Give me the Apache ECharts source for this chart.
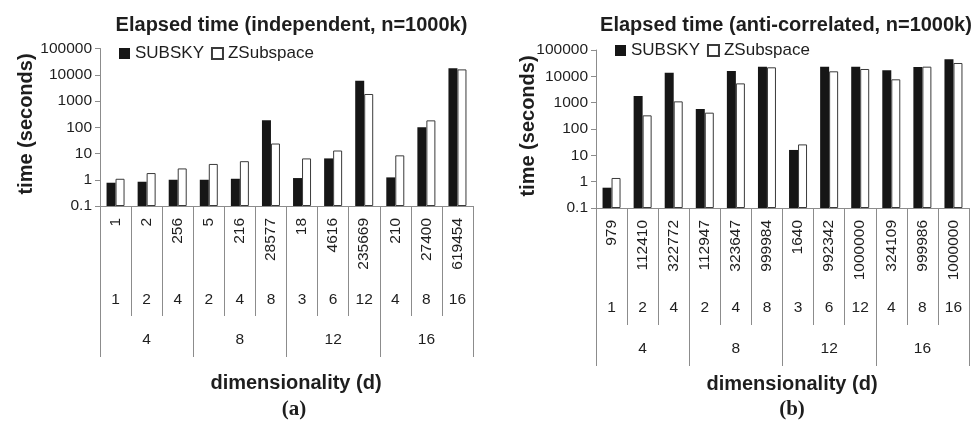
<!DOCTYPE html>
<html><head><meta charset="utf-8">
<script src="https://cdn.jsdelivr.net/npm/echarts@6/dist/echarts.min.js"></script>
<style>html,body{margin:0;padding:0;background:#fff}#c{width:976px;height:423px}</style>
</head><body><div id="c"></div>
<script>
const seriesNames = ['SUBSKY', 'ZSubspace'];
const yTickLabels = ['0.1', '1', '10', '100', '1000', '10000', '100000'];

// (a) independent, n=1000k
const indepSkylineSize = ['1', '2', '256', '5', '216', '28577', '18', '4616', '235669', '210', '27400', '619454'];
const indepSubspaceDim = ['1', '2', '4', '2', '4', '8', '3', '6', '12', '4', '8', '16'];
const indepDims = ['4', '8', '12', '16'];
const indepSUBSKY = [0.77, 0.84, 1.0, 1.0, 1.09, 183, 1.16, 6.5, 5900, 1.23, 100, 17500];
const indepZSubspace = [1.09, 1.8, 2.7, 4.0, 5.1, 24, 6.5, 13, 1850, 8.5, 183, 16000];

// (b) anti-correlated, n=1000k
const antiSkylineSize = ['979', '112410', '322772', '112947', '323647', '999984', '1640', '992342', '1000000', '324109', '999986', '1000000'];
const antiSubspaceDim = ['1', '2', '4', '2', '4', '8', '3', '6', '12', '4', '8', '16'];
const antiDims = ['4', '8', '12', '16'];
const antiSUBSKY = [0.59, 1790, 13800, 575, 15900, 23300, 16, 23300, 23300, 16900, 22600, 44200];
const antiZSubspace = [1.38, 330, 1120, 417, 5400, 22000, 26, 15500, 19000, 7700, 23300, 32100];

const FONT = 'Liberation Sans, Arial, Helvetica, sans-serif';
const AXIS_GREY = '#8c8c8c';
const TEXT = '#1e1e1e';
const TICK_FS = 15.5;

const panels = [
  { left: 100, top: 48.5, width: 373, height: 157.5, sky: indepSkylineSize, sub: indepSubspaceDim, dims: indepDims,
    a: indepSUBSKY, b: indepZSubspace, tick1: 110, tick3: 151, m2: 86, m3: 125.5 },
  { left: 596, top: 50, width: 373, height: 158, sky: antiSkylineSize, sub: antiSubspaceDim, dims: antiDims,
    a: antiSUBSKY, b: antiZSubspace, tick1: 117, tick3: 158, m2: 91.5, m3: 132.5 }
];

const grid = [], xAxis = [], yAxis = [], series = [];
panels.forEach((p, i) => {
  grid.push({ left: p.left, top: p.top, width: p.width, height: p.height, containLabel: false });
  xAxis.push({
    type: 'category', gridIndex: i, position: 'bottom', data: p.sky,
    axisLine: { show: true, lineStyle: { color: AXIS_GREY, width: 1 } },
    axisTick: { show: true, interval: 0, length: p.tick1, lineStyle: { color: AXIS_GREY } },
    axisLabel: { interval: 0, rotate: 90, margin: 12, fontSize: TICK_FS, color: TEXT, fontFamily: FONT, hideOverlap: false },
    splitLine: { show: false }
  });
  xAxis.push({
    type: 'category', gridIndex: i, position: 'bottom', data: p.sub,
    axisLine: { show: false }, axisTick: { show: false },
    axisLabel: { interval: 0, margin: p.m2, fontSize: TICK_FS, color: TEXT, fontFamily: FONT, hideOverlap: false },
    splitLine: { show: false }
  });
  xAxis.push({
    type: 'category', gridIndex: i, position: 'bottom', data: p.dims,
    axisLine: { show: false },
    axisTick: { show: true, interval: 0, length: p.tick3, lineStyle: { color: AXIS_GREY } },
    axisLabel: { interval: 0, margin: p.m3, fontSize: TICK_FS, color: TEXT, fontFamily: FONT, hideOverlap: false },
    splitLine: { show: false }
  });
  yAxis.push({
    type: 'log', logBase: 10, gridIndex: i, min: 0.1, max: 100000, startValue: 0.1,
    axisLine: { show: true, lineStyle: { color: AXIS_GREY, width: 1 } },
    axisTick: { show: true, length: 5, lineStyle: { color: AXIS_GREY } },
    axisLabel: { fontSize: TICK_FS, color: TEXT, fontFamily: FONT, margin: 8,
      formatter: (v, idx) => yTickLabels[idx] },
    splitLine: { show: false }
  });
  series.push({
    name: seriesNames[0], type: 'bar', xAxisIndex: i * 3, yAxisIndex: i, data: p.a,
    barWidth: 9, barGap: '0%',
    itemStyle: { color: '#161616', borderColor: '#161616', borderWidth: 0 },
    emphasis: { disabled: true }
  });
  series.push({
    name: seriesNames[1], type: 'bar', xAxisIndex: i * 3, yAxisIndex: i, data: p.b,
    barWidth: 9, barGap: '0%',
    itemStyle: { color: '#ffffff', borderColor: '#3a3a3a', borderWidth: 1 },
    emphasis: { disabled: true }
  });
});

const legendBase = {
  data: seriesNames, icon: 'rect', itemWidth: 11, itemHeight: 11, itemGap: 7, orient: 'horizontal',
  textStyle: { fontSize: 17, color: TEXT, fontFamily: FONT }, selectedMode: false, padding: 0
};

function txt(x, y, s, opts) {
  return Object.assign({ type: 'text', x: x, y: y, silent: true,
    style: Object.assign({ text: s, fill: TEXT, align: 'center', verticalAlign: 'middle',
      font: 'bold 20px ' + FONT }, opts && opts.style) }, opts && opts.el);
}

const option = {
  animation: false,
  backgroundColor: '#ffffff',
  textStyle: { fontFamily: FONT },
  grid, xAxis, yAxis, series,
  legend: [
    Object.assign({}, legendBase, { left: 119, top: 45 }),
    Object.assign({}, legendBase, { left: 615, top: 42 })
  ],
  graphic: [
    txt(291.5, 25, 'Elapsed time (independent, n=1000k)'),
    txt(786, 25, 'Elapsed time (anti-correlated, n=1000k)'),
    txt(26, 124, 'time (seconds)', { el: { rotation: Math.PI / 2 } }),
    txt(528, 126, 'time (seconds)', { el: { rotation: Math.PI / 2 } }),
    txt(296, 383, 'dimensionality (d)'),
    txt(792, 384, 'dimensionality (d)'),
    txt(294, 410, '(a)', { style: { font: 'bold 21px Liberation Serif, Times New Roman, serif' } }),
    txt(792, 410, '(b)', { style: { font: 'bold 21px Liberation Serif, Times New Roman, serif' } })
  ]
};

const chart = echarts.init(document.getElementById('c'), null, { renderer: 'canvas' });
chart.setOption(option);
</script>
</body></html>
